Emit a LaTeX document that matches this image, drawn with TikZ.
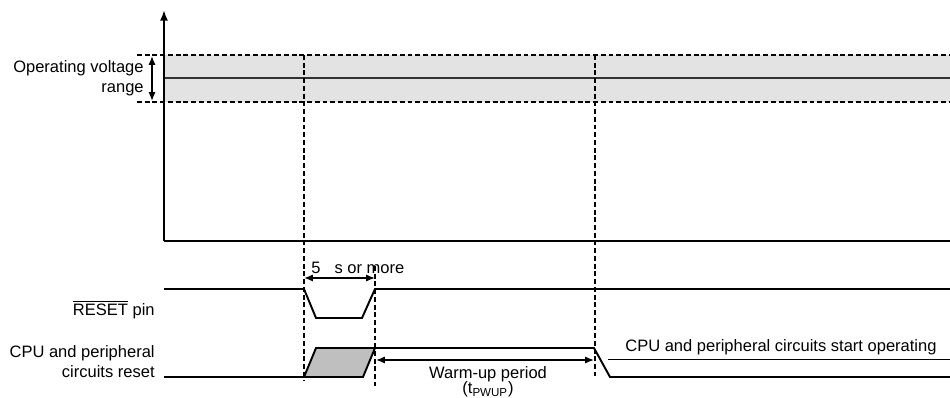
\documentclass[tikz,border=0pt]{standalone}
\usepackage{fontspec}
\setmainfont{Liberation Sans}
\usetikzlibrary{arrows.meta}
\begin{document}
\begin{tikzpicture}[x=0.02cm,y=-0.02cm,
  font=\fontsize{9.4}{11.4}\selectfont,
  sig/.style={line width=1.1pt},
  dsh/.style={line width=0.8pt, dash pattern=on 2.8pt off 1.6pt},
  darr/.style={line width=0.8pt,{Latex[length=5pt,width=4pt]}-{Latex[length=5pt,width=4pt]}},
  lbl/.style={inner sep=0pt, align=right, anchor=east}]
\useasboundingbox (0,0) rectangle (950,398);
% band
\fill[black!11] (164,55) rectangle (950,102);
\coordinate (bl) at (137,55); \coordinate (br) at (950,55);
\coordinate (cl) at (137,102); \coordinate (cr) at (950,102);
\draw[dsh] (bl) -- (br);
\draw[dsh] (cl) -- (cr);
\coordinate (ml) at (164,78); \coordinate (mr) at (950,78);
\draw[line width=1pt, black!80] (ml) -- (mr);
% axes
\coordinate (o) at (164,241); \coordinate (ytop) at (164,10); \coordinate (xr) at (950,241);
\draw[line width=1.1pt,-{Latex[length=6pt,width=4.5pt]}] (o) -- (ytop);
\draw[line width=1.1pt] (o) -- (xr);
% voltage range arrow
\coordinate (va) at (152,56); \coordinate (vb) at (152,101);
\draw[darr] (va) -- (vb);
\node[lbl] (vlab) at (144,78) {Operating voltage\\range};
% dashed verticals
\coordinate (d1a) at (304,55); \coordinate (d1b) at (304,381);
\coordinate (d2a) at (375,266); \coordinate (d2b) at (375,386);
\coordinate (d3a) at (595,55); \coordinate (d3b) at (595,376);
\draw[dsh] (d1a) -- (d1b);
\draw[dsh] (d2a) -- (d2b);
\draw[dsh] (d3a) -- (d3b);
% 5 us arrow
\coordinate (p5a) at (304,278); \coordinate (p5b) at (375,278);
\draw[darr] (p5a) -- (p5b);
\node[inner sep=0pt, anchor=west] (p5lab) at (311,268) {5\hspace{0.85em}s or more};
% RESET pin signal
\node[lbl] (rlab) at (155,310) {$\overline{\mbox{RESET}}$ pin};
\coordinate (r0) at (164,289); \coordinate (r1) at (304,289);
\coordinate (r2) at (316,318); \coordinate (r3) at (362,318);
\coordinate (r4) at (375,289); \coordinate (r5) at (950,289);
\draw[sig] (r0) -- (r1) -- (r2) -- (r3) -- (r4) -- (r5);
% CPU reset signal
\node[lbl] (clab) at (155,362) {CPU and peripheral\\circuits reset};
\coordinate (c0) at (164,377); \coordinate (c1) at (304,377);
\coordinate (c2) at (316,348); \coordinate (c3) at (375,348);
\coordinate (c4) at (363,377);
\coordinate (c5) at (594,348); \coordinate (c6) at (610,377); \coordinate (c7) at (950,377);
\fill[black!25] (c1) -- (c2) -- (c3) -- (c4) -- cycle;
\draw[sig] (c0) -- (c1) -- (c2) -- (c3) -- (c4) -- cycle;
\draw[sig] (c3) -- (c5) -- (c6) -- (c7);
% warm-up arrow
\coordinate (wa) at (376,360); \coordinate (wb) at (594,360);
\draw[darr] (wa) -- (wb);
\node[inner sep=0pt, align=center, anchor=south] (wlab) at (488,397.5) {Warm-up period\\[-2.5pt](t\textsubscript{PWUP})};
% start operating
\coordinate (sa) at (608,359); \coordinate (sb) at (950,359);
\draw[line width=0.5pt] (sa) -- (sb);
\node[inner sep=0pt, anchor=west] (slab) at (625,347) {CPU and peripheral circuits start operating};
\end{tikzpicture}
\end{document}
